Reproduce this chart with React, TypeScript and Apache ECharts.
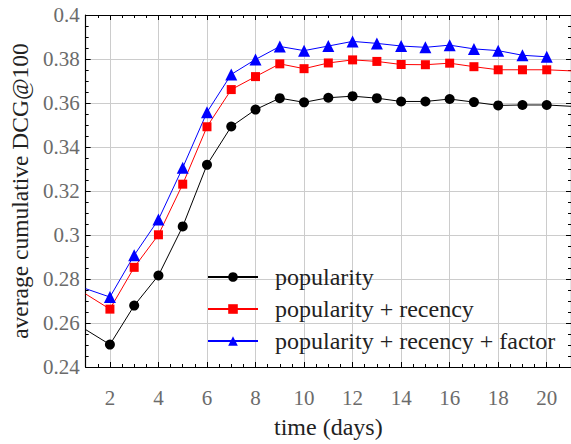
import React, { useEffect, useRef } from "react";
import * as echarts from "echarts";

const days = [1, 2, 3, 4, 5, 6, 7, 8, 9, 10, 11, 12, 13, 14, 15, 16, 17, 18, 19, 20, 21];
const popularity = [0.257, 0.2502, 0.2679, 0.2816, 0.3039, 0.3319, 0.3493, 0.357, 0.3622, 0.3603, 0.3624, 0.3631, 0.3622, 0.3607, 0.3607, 0.3618, 0.3604, 0.3589, 0.3591, 0.3591, 0.3585];
const popRecency = [0.2732, 0.2663, 0.2853, 0.3001, 0.3231, 0.3492, 0.3661, 0.372, 0.3778, 0.3756, 0.3782, 0.3796, 0.3789, 0.3775, 0.3774, 0.3781, 0.3765, 0.3751, 0.3751, 0.3751, 0.3746];
const popRecencyFactor = [0.2756, 0.2718, 0.2908, 0.307, 0.3306, 0.3558, 0.373, 0.3798, 0.3857, 0.3838, 0.3859, 0.388, 0.3871, 0.3859, 0.3853, 0.3863, 0.3846, 0.3838, 0.3817, 0.381, null];
const seriesNames = ["popularity", "popularity + recency", "popularity + recency + factor"];
const yTicks = { min: 0.24, max: 0.4, step: 0.02 };

const FONT = "'Liberation Serif', serif";

function toData(vals: (number | null)[]) {
  const out: any[] = [];
  days.forEach((d, i) => {
    const v = vals[i];
    if (v === null || v === undefined) return;
    const edge = d === days[0] || d === days[days.length - 1];
    out.push(edge ? { value: [d, v], symbol: "none" } : { value: [d, v] });
  });
  return out;
}

export default function App() {
  const ref = useRef<HTMLDivElement>(null);
  useEffect(() => {
    if (!ref.current) return;
    const chart = echarts.init(ref.current, undefined, { renderer: "svg" });
    const baseX = {
      type: "value",
      min: days[0],
      max: days[days.length - 1],
      splitNumber: 10,
      minInterval: 2,
      maxInterval: 2,
      axisLine: { show: true, onZero: false, lineStyle: { color: "#000", width: 1.2 } },
      axisTick: { show: true, inside: true, length: 5, lineStyle: { color: "#000", width: 1 } },
      minorTick: { show: true, splitNumber: 4, length: 3, lineStyle: { color: "#000", width: 1 } },
    };
    const baseY = {
      type: "value",
      min: yTicks.min,
      max: yTicks.max,
      interval: yTicks.step,
      axisLine: { show: true, onZero: false, lineStyle: { color: "#000", width: 1.2 } },
      axisTick: { show: true, inside: true, length: 5, lineStyle: { color: "#000", width: 1 } },
      minorTick: { show: true, splitNumber: 4, length: 3, lineStyle: { color: "#000", width: 1 } },
    };
    const colors = ["#000000", "#ff0000", "#0000ff"];
    const symbols = ["circle", "rect", "triangle"];
    const sizes = [10, 9, 12];
    const vals = [popularity, popRecency, popRecencyFactor];
    chart.setOption({
      animation: false,
      backgroundColor: "#ffffff",
      grid: { left: 82, right: 0, top: 15, bottom: 73, containLabel: false },
      legend: {
        data: seriesNames,
        orient: "vertical",
        left: 202,
        top: 260,
        itemWidth: 50,
        itemHeight: 12,
        itemGap: 8,
        textStyle: { fontFamily: FONT, fontSize: 24, color: "#222", lineHeight: 20, padding: [0, 0, 0, 12] },
      },
      xAxis: [
        {
          ...baseX,
          position: "bottom",
          name: "time (days)",
          nameLocation: "middle",
          nameGap: 48,
          nameTextStyle: { fontFamily: FONT, fontSize: 24, color: "#222" },
          axisLabel: { show: true, showMinLabel: false, showMaxLabel: false, margin: 20, fontFamily: FONT, fontSize: 21, color: "#6b6b6b" },
          splitLine: { show: true, lineStyle: { color: "#cccccc", width: 1 } },
        },
        {
          ...baseX,
          position: "top",
          axisLabel: { show: false },
          splitLine: { show: false },
        },
      ],
      yAxis: [
        {
          ...baseY,
          position: "left",
          name: "average cumulative DCG@100",
          nameLocation: "middle",
          nameGap: 53,
          nameTextStyle: { fontFamily: FONT, fontSize: 23.5, color: "#222" },
          axisLabel: { show: true, margin: 6, fontFamily: FONT, fontSize: 21, color: "#6b6b6b" },
          splitLine: { show: true, lineStyle: { color: "#cccccc", width: 1 } },
        },
        {
          ...baseY,
          position: "right",
          axisLabel: { show: false },
          splitLine: { show: false },
        },
      ],
      series: seriesNames.map((name, i) => ({
        name,
        type: "line",
        xAxisIndex: 0,
        yAxisIndex: 0,
        symbol: symbols[i],
        symbolSize: sizes[i],
        showAllSymbol: true,
        clip: true,
        color: colors[i],
        itemStyle: { color: colors[i] },
        lineStyle: { color: colors[i], width: 1 },
        data: toData(vals[i]),
      })),
    });
    return () => chart.dispose();
  }, []);
  return <div ref={ref} style={{ position: "fixed", left: 0, top: 0, width: 571, height: 444 }} />;
}
